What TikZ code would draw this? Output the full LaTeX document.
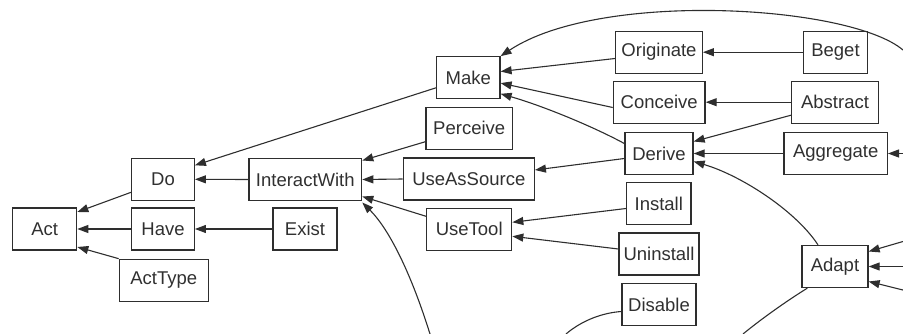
\documentclass[tikz,border=0pt]{standalone}
\usepackage{fontspec}
\setmainfont{Liberation Sans}
\usetikzlibrary{arrows.meta}
\definecolor{ink}{HTML}{2E2E2E}
\definecolor{txt}{HTML}{303030}
\tikzset{
  box/.style={draw=ink, line width=1.3pt, inner sep=0pt, minimum height=42pt,
    font=\fontsize{18.5}{20}\selectfont, text=txt},
  edge/.style={draw=ink, line width=1.1pt, -{Triangle[length=11pt,width=8pt]}},
  plain/.style={draw=ink, line width=1.1pt}
}
\begin{document}
\begin{tikzpicture}[x=1pt,y=-1pt]
\useasboundingbox (0,0) rectangle (903,334);
\begin{scope}
\clip (0,0) rectangle (903,334);
% nodes
\node[box, minimum width=64pt]  (Act) at (44.7,229) {Act};
\node[box, minimum width=62.6pt] (Do) at (163,179.3) {Do};
\node[box, minimum width=62.6pt] (Have) at (163,229) {Have};
\node[box, minimum width=89pt] (ActType) at (163.8,280.3) {ActType};
\node[box, minimum width=112.7pt] (InteractWith) at (305.3,179.5) {InteractWith};
\node[box, minimum width=64pt] (Exist) at (305,229) {Exist};
\node[box, minimum width=63.3pt] (Make) at (468.3,77.8) {Make};
\node[box, minimum width=86.3pt] (Perceive) at (469.2,128.2) {Perceive};
\node[box, minimum width=131pt] (UseAsSource) at (468.8,179) {UseAsSource};
\node[box, minimum width=85pt] (UseTool) at (469.2,229.3) {UseTool};
\node[box, minimum width=86.6pt] (Originate) at (659,52.2) {Originate};
\node[box, minimum width=91.7pt] (Conceive) at (659.2,102.2) {Conceive};
\node[box, minimum width=68pt] (Derive) at (659,153.5) {Derive};
\node[box, minimum width=64.3pt] (Install) at (658.8,203.5) {Install};
\node[box, minimum width=80pt] (Uninstall) at (659,254) {Uninstall};
\node[box, minimum width=74pt] (Disable) at (659,304.5) {Disable};
\node[box, minimum width=64.4pt] (Beget) at (835.5,52.2) {Beget};
\node[box, minimum width=86.6pt] (Abstract) at (835,102.2) {Abstract};
\node[box, minimum width=103.3pt] (Aggregate) at (835.7,153.5) {Aggregate};
\node[box, minimum width=66pt] (Adapt) at (835,266.5) {Adapt};
% off-picture ends
\coordinate (offA) at (430,334);
\coordinate (offB) at (903,50);
\coordinate (offC) at (903,153.5);
\coordinate (offD1) at (903,241.5);
\coordinate (offD2) at (903,266.5);
\coordinate (offD3) at (903,290);
\coordinate (offE) at (566,334);
\coordinate (offF) at (743,334);
% edges
\draw[edge] ([yshift=-13pt]Do.west) -- ([yshift=17pt]Act.east);
\draw[edge] (Have.west) -- (Act.east);
\draw[edge] (ActType.north west) -- ([yshift=-18pt]Act.east);
\draw[edge] ([yshift=-10pt]Make.west) -- ([yshift=14pt]Do.east);
\draw[edge] (InteractWith.west) -- (Do.east);
\draw[edge] (Exist.west) -- (Have.east);
\draw[edge] ([yshift=-13.5pt]Perceive.west) -- ([yshift=19pt]InteractWith.east);
\draw[edge] (UseAsSource.west) -- (InteractWith.east);
\draw[edge] ([yshift=13pt]UseTool.west) -- ([yshift=-17pt]InteractWith.east);
\draw[edge] (offA) .. controls (410,270) and (388,228) .. ([yshift=-23pt]InteractWith.east);
\draw[edge] ([yshift=-6.3pt]Originate.west) -- ([yshift=6.3pt]Make.east);
\draw[edge] ([yshift=-5.3pt]Conceive.west) -- ([yshift=-5.3pt]Make.east);
\draw[edge] ([yshift=10pt]Derive.west) .. controls (590,125) and (540,105) .. ([yshift=-16pt]Make.east);
\draw[edge] (offB) .. controls (850,5) and (600,-10) .. (Make.north east);
\draw[edge] (Beget.west) -- (Originate.east);
\draw[edge] (Abstract.west) -- (Conceive.east);
\draw[edge] ([yshift=-13pt]Abstract.west) -- ([yshift=12pt]Derive.east);
\draw[edge] (Aggregate.west) -- (Derive.east);
\draw[edge] ([xshift=-17pt]Adapt.north) .. controls (795,210) and (740,175) .. ([yshift=-8pt]Derive.east);
\draw[edge] ([yshift=-5pt]Derive.west) -- ([yshift=9pt]UseAsSource.east);
\draw[edge] ([yshift=-5pt]Install.west) -- ([yshift=7pt]UseTool.east);
\draw[edge] ([yshift=5pt]Uninstall.west) -- ([yshift=-7pt]UseTool.east);
\draw[edge] (offC) -- (Aggregate.east);
\draw[edge] (offD1) -- ([yshift=15pt]Adapt.east);
\draw[edge] (offD2) -- (Adapt.east);
\draw[edge] (offD3) -- ([yshift=-15pt]Adapt.east);
\draw[plain] ([yshift=-7pt]Disable.west) .. controls (600,313) and (580,322) .. (offE);
\draw[plain] ([xshift=6pt]Adapt.south west) .. controls (785,302) and (760,320) .. (offF);
\end{scope}
\end{tikzpicture}
\end{document}
